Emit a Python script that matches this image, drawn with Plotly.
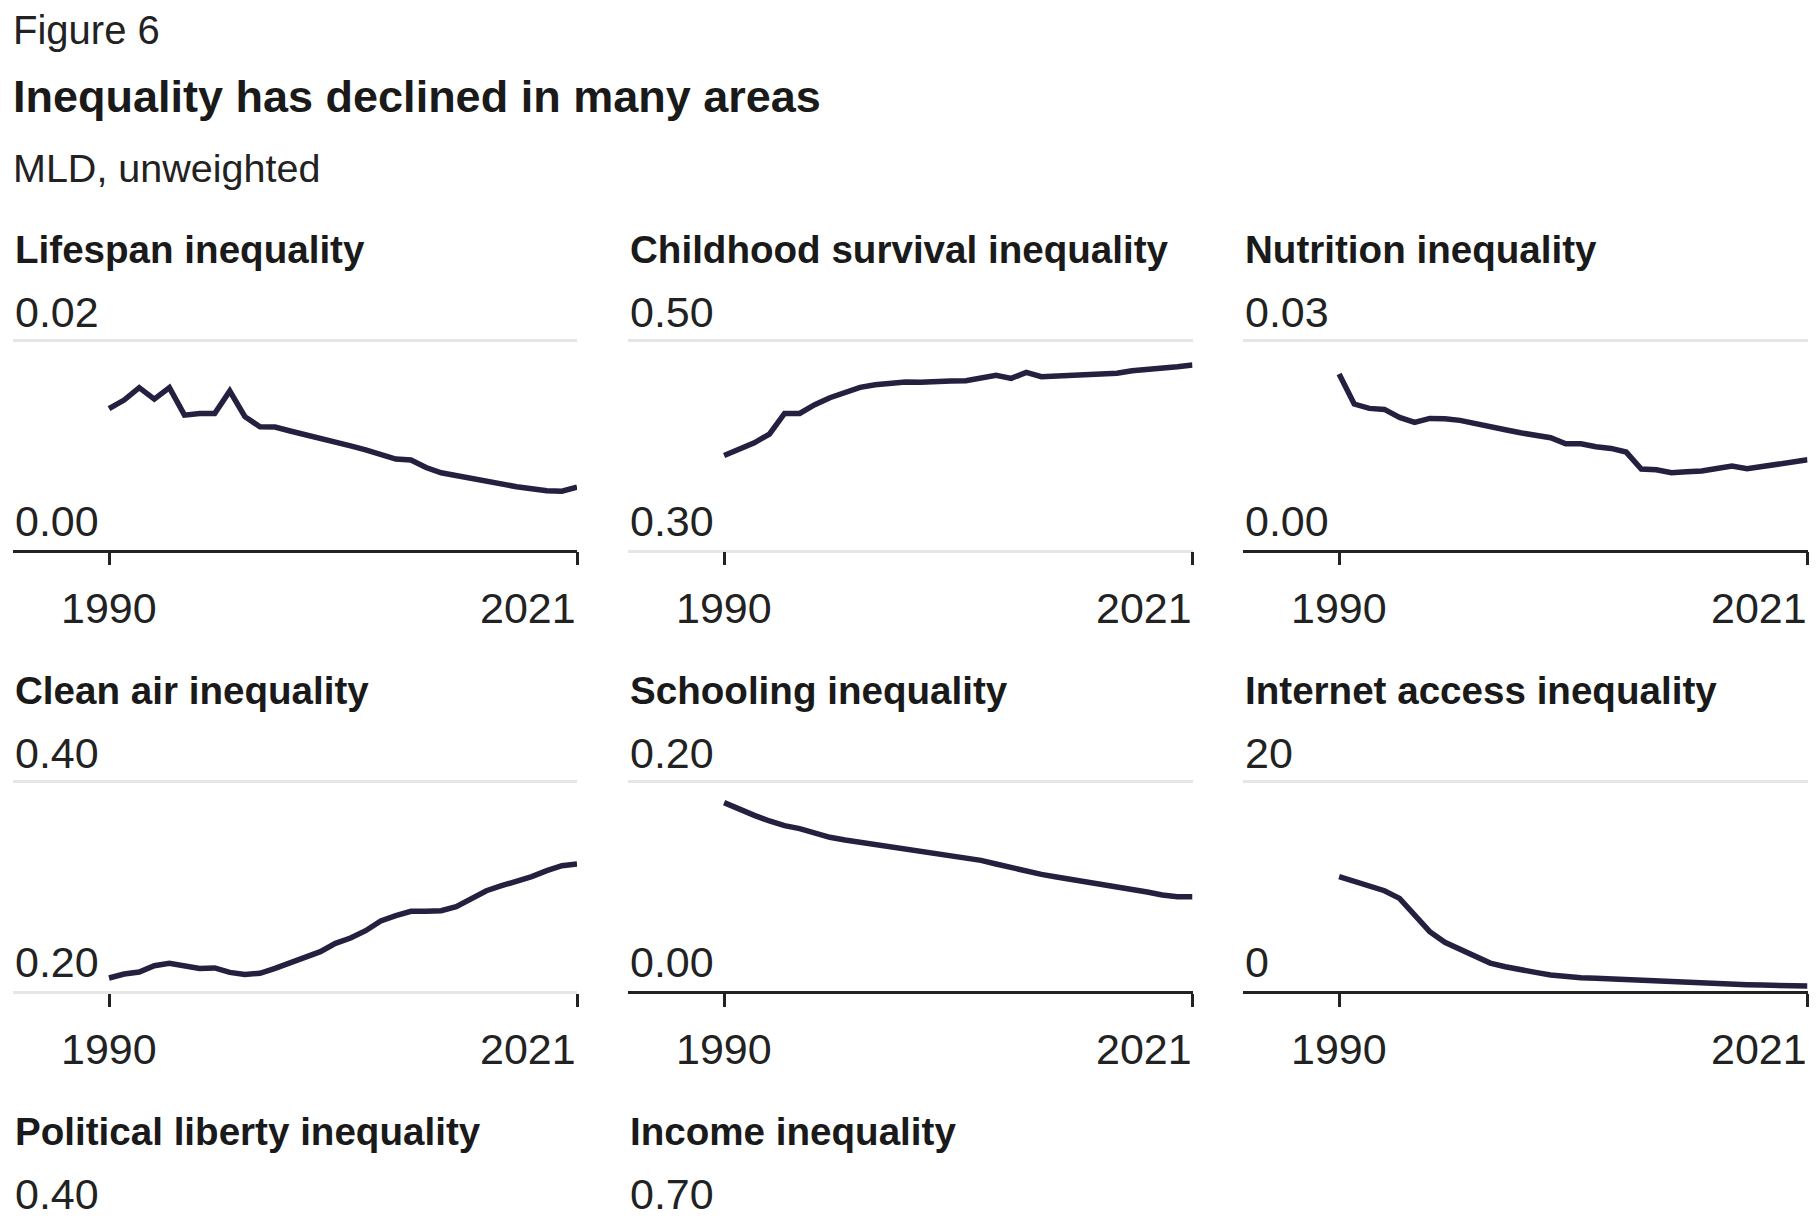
import plotly.graph_objects as go

# ---------------- data ----------------
years = list(range(1990, 2022))

lifespan = [0.01344, 0.01427, 0.01545, 0.01436, 0.01545, 0.01283, 0.01299, 0.01299,
            0.01513, 0.01268, 0.01172, 0.01169, 0.01131, 0.01096, 0.01073, 0.01032,
            0.00990, 0.00952, 0.00914, 0.00863, 0.00854, 0.00783, 0.00732, 0.00704,
            0.00685, 0.00646, 0.00618, 0.00599, 0.00580, 0.00561, 0.00557, 0.00596]

childhood = [0.3898, 0.3965, 0.4019, 0.4102, 0.4299, 0.4299, 0.4382, 0.4449,
             0.4503, 0.4548, 0.4573, 0.4592, 0.4599, 0.4596, 0.4596, 0.4608,
             0.4611, 0.4634, 0.4662, 0.4634, 0.4691, 0.4650, 0.4656, 0.4662,
             0.4675, 0.4682, 0.4682, 0.4707, 0.4717, 0.4726, 0.4745, 0.4761]

nutrition = [0.02513, 0.02083, 0.02021, 0.02006, 0.01892, 0.01820, 0.01877, 0.01873,
             0.01849, 0.01801, 0.01744, 0.01715, 0.01672, 0.01634, 0.01600, 0.01514,
             0.01514, 0.01471, 0.01447, 0.01395, 0.01151, 0.01142, 0.01099, 0.01113,
             0.01123, 0.01161, 0.01194, 0.01156, 0.01189, 0.01237, 0.01266, 0.01285]

clean_air = [0.2121, 0.2159, 0.2178, 0.2239, 0.2261, 0.2236, 0.2213, 0.2217,
             0.2175, 0.2156, 0.2166, 0.2213, 0.2264, 0.2312, 0.2373, 0.2452,
             0.2503, 0.2573, 0.2666, 0.2717, 0.2758, 0.2758, 0.2764, 0.2803,
             0.2876, 0.2955, 0.3003, 0.3045, 0.3089, 0.3146, 0.3194, 0.3210]

schooling = [0.1796, 0.1732, 0.1675, 0.1621, 0.1576, 0.1548, 0.1503, 0.1465,
             0.1439, 0.1417, 0.1395, 0.1369, 0.1347, 0.1328, 0.1312, 0.1293,
             0.1268, 0.1245, 0.1210, 0.1175, 0.1137, 0.1111, 0.1086, 0.1064,
             0.1041, 0.1010, 0.0990, 0.0971, 0.0943, 0.0914, 0.0898, 0.0898]

internet = [10.89, 10.41, 10.00, 9.55, 8.82, 7.23, 5.64, 4.62,
            3.98, 3.31, 2.64, 2.29, 1.97, 1.75, 1.50, 1.34,
            1.24, 1.18, 1.11, 1.02, 0.96, 0.89, 0.83, 0.80,
            0.73, 0.67, 0.61, 0.57, 0.54, 0.51, 0.48, 0.45]

panel_titles = ["Lifespan inequality", "Childhood survival inequality", "Nutrition inequality",
                "Clean air inequality", "Schooling inequality", "Internet access inequality"]
panel_values = [lifespan, childhood, nutrition, clean_air, schooling, internet]
y_lows = [0.0, 0.30, 0.0, 0.20, 0.0, 0.0]
y_highs = [0.02, 0.50, 0.03, 0.40, 0.20, 20]
y_low_text = ["0.00", "0.30", "0.00", "0.20", "0.00", "0"]
y_high_text = ["0.02", "0.50", "0.03", "0.40", "0.20", "20"]
x_tick_years = [1990, 2021]
x_tick_text = ["1990", "2021"]

row3_titles = ["Political liberty inequality", "Income inequality"]
row3_high_text = ["0.40", "0.70"]

fig_title = "Inequality has declined in many areas"
fig_label = "Figure 6"
fig_subtitle = "MLD, unweighted"

# ---------------- style / layout ----------------
W, H = 1820, 1220
FONT = "Liberation Sans"
TXT = "#222222"
LINE = "#25203f"
GRID = "#e6e6e6"
DARK = "#222222"
TICK_SIZE = 43
PANEL_TITLE_SIZE = 38.6

col_left = [13, 628, 1243]
col_right = [577, 1192.5, 1807.5]
row_top = [340, 781.3, 1222]
row_bot = [549.5, 990.7]
x_min = 1983.64

fig = go.Figure()
annotations = []

for i in range(6):
    r, c = divmod(i, 3)
    s = "" if i == 0 else str(i + 1)
    lo, hi = y_lows[i], y_highs[i]
    span = hi - lo
    plot_h = row_bot[r] - row_top[r]
    fig.add_trace(go.Scatter(
        x=years, y=panel_values[i], mode="lines",
        line=dict(color=LINE, width=5.5), xaxis="x" + s, yaxis="y" + s,
        hoverinfo="x+y", showlegend=False))
    fig.layout["xaxis" + s] = dict(
        domain=[col_left[c] / W, col_right[c] / W], range=[x_min, 2021],
        anchor="y" + s, tickvals=x_tick_years, ticks="outside", ticklen=13,
        tickwidth=2.5, tickcolor=DARK, showticklabels=False, showgrid=False,
        zeroline=False, showline=True, linewidth=2.6,
        linecolor=DARK if lo == 0 else GRID, fixedrange=True)
    fig.layout["yaxis" + s] = dict(
        domain=[1 - row_bot[r] / H, 1 - (row_top[r] - 1.5) / H],
        range=[lo, hi + span * 1.5 / plot_h], anchor="x" + s,
        tickvals=[lo, hi], showticklabels=False, showgrid=True,
        gridcolor=GRID, gridwidth=2.5, zeroline=False, ticks="", fixedrange=True)

    xd = ("x" if i == 0 else "x" + s) + " domain"
    yd = ("y" if i == 0 else "y" + s) + " domain"
    # panel title
    annotations.append(dict(text="<b>" + panel_titles[i] + "</b>", xref=xd, x=0,
                            yref="paper", y=1 - (row_top[r] - 91) / H,
                            xanchor="left", yanchor="middle", showarrow=False,
                            font=dict(family=FONT, size=PANEL_TITLE_SIZE, color="#1a1a1a")))
    # y labels
    for val, txt in [(hi, y_high_text[i]), (lo, y_low_text[i])]:
        annotations.append(dict(text=txt, xref=xd, x=0, yref="y" + s, y=val,
                                yshift=28.5, xanchor="left", yanchor="middle",
                                showarrow=False, font=dict(family=FONT, size=TICK_SIZE, color=TXT)))
    # x labels
    for yr, txt, anc in zip(x_tick_years, x_tick_text, ["center", "right"]):
        annotations.append(dict(text=txt, xref="x" + s, x=yr, yref=yd, y=0,
                                yshift=-58, xanchor=anc, yanchor="middle",
                                xshift=1 if anc == "right" else 0,
                                showarrow=False, font=dict(family=FONT, size=TICK_SIZE, color=TXT)))

# third row (only titles and top labels visible)
for c in range(2):
    annotations.append(dict(text="<b>" + row3_titles[c] + "</b>", xref="paper",
                            x=col_left[c] / W, yref="paper", y=1 - (row_top[2] - 91) / H,
                            xanchor="left", yanchor="middle", showarrow=False,
                            font=dict(family=FONT, size=PANEL_TITLE_SIZE, color="#1a1a1a")))
    annotations.append(dict(text=row3_high_text[c], xref="paper",
                            x=col_left[c] / W, yref="paper", y=1 - (row_top[2] - 28.5) / H,
                            xanchor="left", yanchor="middle", showarrow=False,
                            font=dict(family=FONT, size=TICK_SIZE, color=TXT)))

# headings
annotations.append(dict(text=fig_label, xref="paper", x=11 / W, yref="paper", y=1 - 30 / H,
                        xanchor="left", yanchor="middle", showarrow=False,
                        font=dict(family=FONT, size=40, color=TXT)))
annotations.append(dict(text="<b>" + fig_title + "</b>", xref="paper", x=11 / W, yref="paper",
                        y=1 - 96 / H, xanchor="left", yanchor="middle", showarrow=False,
                        font=dict(family=FONT, size=45, color="#1a1a1a")))
annotations.append(dict(text=fig_subtitle, xref="paper", x=11 / W, yref="paper", y=1 - 167.5 / H,
                        xanchor="left", yanchor="middle", showarrow=False,
                        font=dict(family=FONT, size=39.5, color=TXT)))

fig.update_layout(
    width=W, height=H, margin=dict(l=0, r=0, t=0, b=0),
    paper_bgcolor="white", plot_bgcolor="white",
    font=dict(family=FONT, color=TXT), annotations=annotations, showlegend=False)

fig.write_html("out.html", config={"displayModeBar": False},
               post_script="document.body.style.margin='0px';document.body.style.overflow='hidden';")
